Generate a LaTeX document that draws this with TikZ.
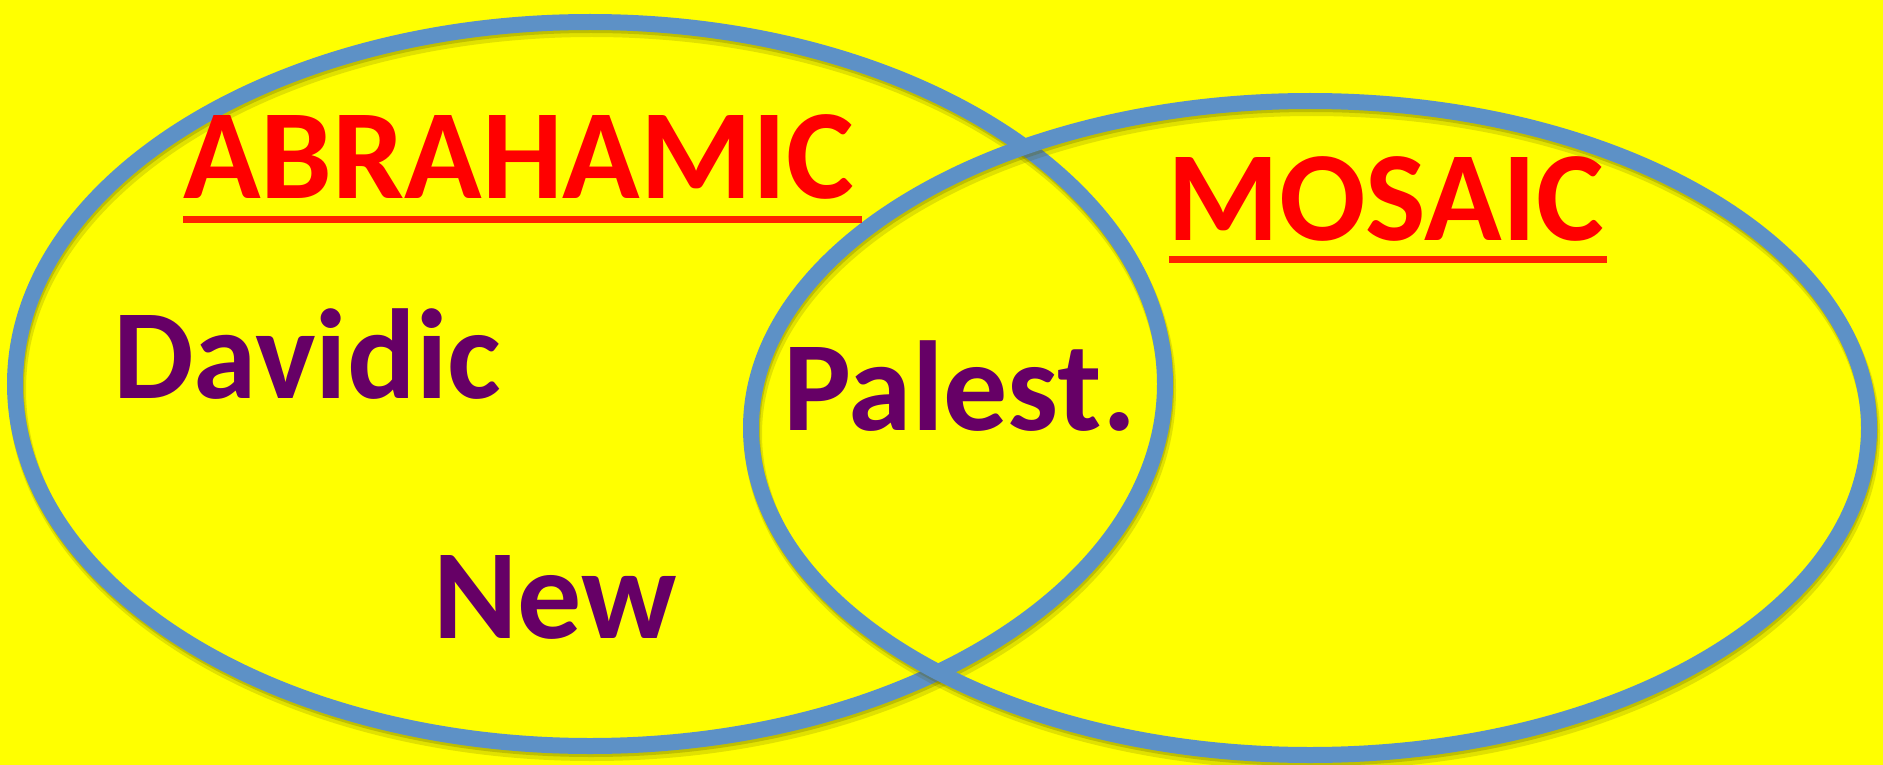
\documentclass[tikz,border=0pt]{standalone}
\usepackage{fontspec}
\setmainfont{Carlito}
\definecolor{bg}{RGB}{255,255,0}
\definecolor{ring}{RGB}{93,145,198}
\definecolor{shade}{RGB}{90,90,0}
\definecolor{titlered}{RGB}{255,0,0}
\definecolor{ulred}{RGB}{255,34,0}
\definecolor{plum}{RGB}{102,0,102}
\tikzset{
  ringline/.style={draw=ring, line width=16pt},
  ringshadowA/.style={draw=shade, line width=18pt, opacity=0.18},
  ringshadowB/.style={draw=shade, line width=16pt, opacity=0.25},
  titletext/.style={inner sep=0pt, anchor=base west, text=titlered, font=\fontsize{128}{150}\selectfont\bfseries},
  covtext/.style={inner sep=0pt, anchor=base west, text=plum, font=\fontsize{128}{150}\selectfont\bfseries},
  uline/.style={draw=ulred, line width=7pt}
}
\begin{document}
\begin{tikzpicture}[x=1pt,y=-1pt]
\useasboundingbox (0,0) rectangle (1883,765);
\fill[bg] (0,0) rectangle (1883,765);
% left ellipse
\draw[ringshadowA] (592,390) ellipse [x radius=575pt, y radius=362pt];
\draw[ringshadowB] (591,387) ellipse [x radius=575pt, y radius=362pt];
\draw[ringline] (590,384) ellipse [x radius=575pt, y radius=362pt];
% right ellipse
\draw[ringshadowA] (1312,434) ellipse [x radius=559pt, y radius=327pt];
\draw[ringshadowB] (1311,431) ellipse [x radius=559pt, y radius=327pt];
\draw[ringline] (1310,428) ellipse [x radius=559pt, y radius=327pt];
% titles
\node[titletext] (abr) at (183,198) {ABRAHAMIC};
\coordinate (abrL) at (183,219);
\coordinate (abrR) at (862,219);
\draw[uline] (abrL) -- (abrR);
\node[titletext] (mos) at (1167,240) {MOSAIC};
\coordinate (mosL) at (1169,259);
\coordinate (mosR) at (1607,259);
\draw[uline] (mosL) -- (mosR);
% covenants
\node[covtext] (dav) at (113,398) {Davidic};
\node[covtext] (pal) at (783,430) {Palest.};
\node[covtext] (new) at (433,638) {New};
\end{tikzpicture}
\end{document}
